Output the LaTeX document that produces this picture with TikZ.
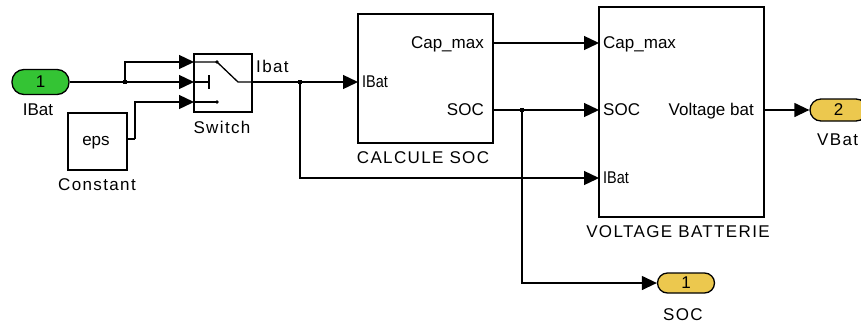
\documentclass[tikz,border=0pt]{standalone}
\usepackage{fontspec}
\setmainfont{Liberation Sans}
\newfontfamily\namefont[LetterSpace=8]{Liberation Sans}
\usetikzlibrary{arrows.meta,calc}
\definecolor{simgreen}{RGB}{52,196,52}
\definecolor{simyellow}{RGB}{236,200,78}
\newcommand\dfs{\fontsize{17}{20}\selectfont}
\begin{document}
\begin{tikzpicture}[x=1pt,y=-1pt,
  wire/.style={line width=1.3pt},
  arr/.style={wire,-{Triangle[length=15pt,width=14pt]}},
  blk/.style={draw,line width=1.4pt,fill=white,inner sep=0pt,rectangle},
  pill/.style={draw,line width=1.3pt,rounded corners=11pt,inner sep=0pt,minimum height=22pt,minimum width=57pt,font=\dfs},
  txt/.style={inner sep=0pt,font=\dfs,anchor=base},
  ntxt/.style={inner sep=0pt,font=\dfs\namefont,anchor=base},
  jdot/.style={fill,inner sep=0pt,minimum size=3.6pt,rectangle},
  sdot/.style={fill,circle,inner sep=0pt,minimum size=3.6pt}]
\fill[white] (0,0) rectangle (861,322);
\useasboundingbox (0,0) rectangle (861,322);

% blocks
\node[pill,fill=simgreen,minimum height=25pt,rounded corners=12pt] (ibat) at (40.5,82) {1};
\node[blk,minimum width=59pt,minimum height=57pt] (const) at (97.5,141.5) {};
\node[blk,minimum width=58pt,minimum height=58pt] (sw) at (223,83) {};
\node[blk,minimum width=135pt,minimum height=129pt] (cs) at (425.5,78.5) {};
\node[blk,minimum width=165pt,minimum height=210pt] (vb) at (681.5,112) {};
\node[pill,fill=simyellow] (vbat) at (838.5,110) {2};
\node[pill,fill=simyellow,minimum height=20pt,rounded corners=10pt] (socout) at (686,283) {1};

% ports
\coordinate (sw-i1) at (194,62);
\coordinate (sw-i2) at (194,82);
\coordinate (sw-i3) at (194,102);
\coordinate (sw-o) at (252,82);
\coordinate (c-o) at (127,139);
\coordinate (c-b) at (135,139);
\coordinate (j1) at (125,82);
\coordinate (j2) at (300,82);
\coordinate (j3) at (522,110);
\coordinate (cs-i) at (358,82);
\coordinate (cs-o1) at (493,43);
\coordinate (cs-o2) at (493,110);
\coordinate (vb-i1) at (599,43);
\coordinate (vb-i2) at (599,110);
\coordinate (vb-i3) at (599,178);
\coordinate (vb-o) at (764,110);

% switch interior
\coordinate (sw-p1) at (217,62);
\coordinate (sw-p2) at (238,82);
\coordinate (sw-t) at (209,82);
\coordinate (sw-p3) at (217,102);
\draw[wire] (sw-i1) -- (sw-p1) -- (sw-p2) -- (sw-o);
\draw[wire] (sw-i2) -- (sw-t);
\draw[wire] ($(sw-t)+(0,-7)$) -- ($(sw-t)+(0,7)$);
\draw[wire] (sw-i3) -- (sw-p3);
\node[sdot] (d1) at (sw-p1) {};
\node[sdot] (d3) at (sw-p3) {};

% connectors
\draw[wire] (ibat.east) -- (j1);
\draw[arr] (j1) |- (sw-i1);
\draw[arr] (j1) -- (sw-i2);
\draw[wire] (c-o) -- (c-b);
\draw[arr] (c-b) |- (sw-i3);
\draw[wire] (sw-o) -- (j2);
\draw[arr] (j2) -- (cs-i);
\draw[arr] (j2) |- (vb-i3);
\draw[arr] (cs-o1) -- (vb-i1);
\draw[wire] (cs-o2) -- (j3);
\draw[arr] (j3) -- (vb-i2);
\draw[arr] (j3) |- (socout.west);
\draw[arr] (vb-o) -- (vbat.west);
\node[jdot] (jd1) at (j1) {};
\node[jdot] (jd2) at (j2) {};
\node[jdot] (jd3) at (j3) {};

% texts
\node[txt] (l-ibat) at (38,115) {IBat};
\node[txt] (l-eps) at (96,145) {eps};
\node[ntxt] (l-const) at (97,190) {Constant};
\node[ntxt] (l-sw) at (222,133) {Switch};
\node[ntxt,anchor=base west] (l-ibat2) at (256,72) {Ibat};
\node[txt,anchor=base west] (l-csin) at (362,87) {\scalebox{0.85}[1]{IBat}};
\node[txt,anchor=base east] (l-cso1) at (484,48) {Cap\_max};
\node[txt,anchor=base east] (l-cso2) at (484,115) {SOC};
\node[ntxt] (l-cs) at (423,163) {CALCULE SOC};
\node[txt,anchor=base west] (l-vbi1) at (603,48) {Cap\_max};
\node[txt,anchor=base west] (l-vbi2) at (603,115) {SOC};
\node[txt,anchor=base west] (l-vbi3) at (603,183) {\scalebox{0.85}[1]{IBat}};
\node[txt,anchor=base east] (l-vbo) at (754,115) {Voltage bat};
\node[ntxt] (l-vb) at (678,237) {VOLTAGE BATTERIE};
\node[ntxt,anchor=base west] (l-vbat) at (817,145) {VBat};
\node[ntxt] (l-soc) at (683,320) {SOC};
\end{tikzpicture}
\end{document}
